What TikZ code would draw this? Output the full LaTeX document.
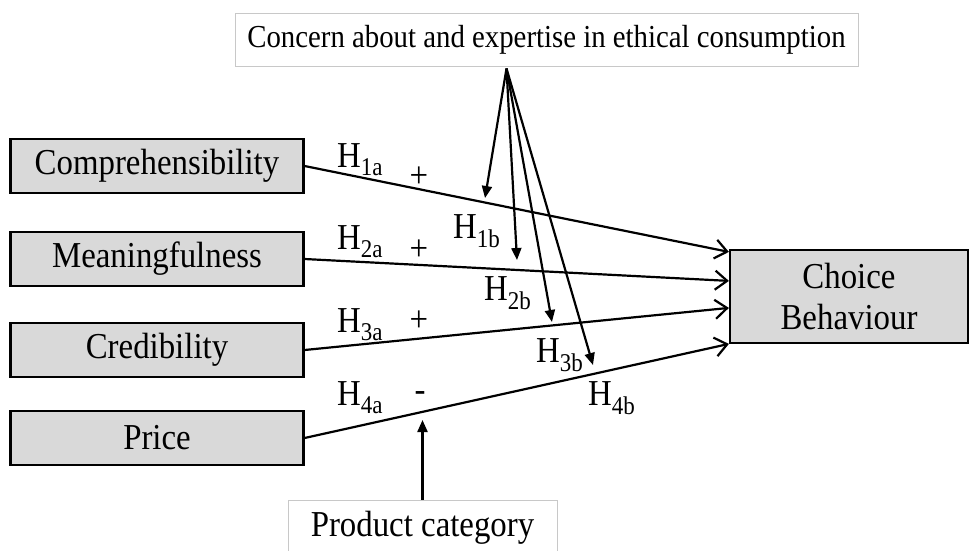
\documentclass[tikz,border=0pt]{standalone}
\usepackage{fontspec}
\setmainfont{Liberation Serif}[FakeStretch=0.9]
\usetikzlibrary{arrows.meta,calc}

\definecolor{boxgray}{RGB}{217,217,217}
\definecolor{framegray}{RGB}{200,200,200}

\tikzset{
	factor/.style={draw, line width=2.2pt, fill=boxgray, minimum width=293pt, minimum height=54pt, inner sep=0pt, font=\fontsize{36.5}{41}\selectfont},
	moderator/.style={draw=framegray, line width=1pt, fill=white, inner sep=0pt},
	effect/.style={line width=2.2pt, -{Straight Barb[length=12pt,width=19pt,line width=2.2pt]}},
	modarrow/.style={line width=2.2pt, -{Triangle[length=12pt,width=10pt]}},
	hyp/.style={anchor=base west, inner sep=0pt, font=\fontsize{36.5}{41}\selectfont},
	sign/.style={inner sep=0pt, font=\fontsize{36.5}{41}\selectfont}
}

\begin{document}
\begin{tikzpicture}[x=1pt,y=-1pt]
		\useasboundingbox (0,0) rectangle (970,550);
		
		%predictor boxes
		\node[factor] (comp) at (157,166) {Comprehensibility};
		\node[factor] (mean) at (157,259) {Meaningfulness};
		\node[factor] (cred) at (157,350) {Credibility};
		\node[factor] (price) at (157,438) {Price};
		
		%outcome box
		\node[factor, minimum width=238pt, minimum height=93pt, align=center] (choice) at (849,296.5) {Choice\\Behaviour};
		
		%moderator boxes
		\node[moderator, minimum width=623pt, minimum height=53pt, font=\fontsize{32}{36}\selectfont] (concern) at (546.5,39.5) {Concern about and expertise in ethical consumption};
		\node[moderator, minimum width=269pt, minimum height=56pt, font=\fontsize{36.5}{41}\selectfont] (product) at (422.5,528) {Product category};
		
		%direct effects
		\draw[effect] (comp.east) -- ([yshift=-3pt]choice.north west);
		\draw[effect] (mean.east) -- ([yshift=-32pt]choice.north west);
		\draw[effect] (cred.east) -- ([yshift=-59pt]choice.north west);
		\draw[effect] (price.east) -- ([yshift=-95pt]choice.north west);
		
		%moderating effects
		\coordinate (src) at ([xshift=-40pt,yshift=-2pt]concern.south);
		\coordinate (m1) at (485,198);
		\coordinate (m2) at (517,260);
		\coordinate (m3) at (552,322);
		\coordinate (m4) at (593,365);
		\foreach \m in {m1,m2,m3,m4}
			\draw[modarrow] (src) -- (\m);
		\coordinate (m5) at (422.5,420);
		\draw[modarrow] (product.north) -- (m5);
		
		%hypotheses
		\node[hyp] (h1a) at (337,167) {H\textsubscript{1a}};
		\node[hyp] (h2a) at (337,249) {H\textsubscript{2a}};
		\node[hyp] (h3a) at (337,332) {H\textsubscript{3a}};
		\node[hyp] (h4a) at (337,405) {H\textsubscript{4a}};
		\node[hyp] (h1b) at (453,238) {H\textsubscript{1b}};
		\node[hyp] (h2b) at (484,300) {H\textsubscript{2b}};
		\node[hyp] (h3b) at (536,362) {H\textsubscript{3b}};
		\node[hyp] (h4b) at (588,405) {H\textsubscript{4b}};
		
		%signs
		\node[sign] (s1) at (419,177) {+};
		\node[sign] (s2) at (419,250) {+};
		\node[sign] (s3) at (419,321) {+};
		\node[sign] (s4) at (420,397) {-};
\end{tikzpicture}
\end{document}
